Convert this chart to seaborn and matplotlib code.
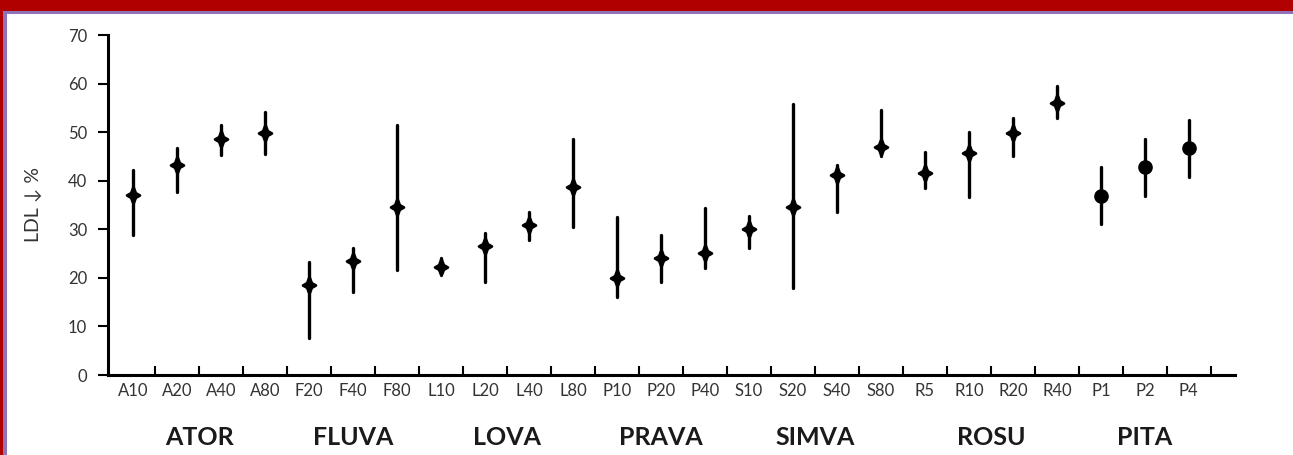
import numpy as np
import pandas as pd
import matplotlib
matplotlib.use("Agg")
import matplotlib.pyplot as plt
from matplotlib.path import Path
from matplotlib.patches import Rectangle
from matplotlib.transforms import blended_transform_factory
import seaborn as sns

# Dose labels, grouped by statin
categories = ["A10", "A20", "A40", "A80", "F20", "F40", "F80",
              "L10", "L20", "L40", "L80", "P10", "P20", "P40",
              "S10", "S20", "S40", "S80", "R5", "R10", "R20", "R40",
              "P1", "P2", "P4"]
groups = ["ATOR"] * 4 + ["FLUVA"] * 3 + ["LOVA"] * 4 + ["PRAVA"] * 3 + \
         ["SIMVA"] * 4 + ["ROSU"] * 4 + ["PITA"] * 3
group_names = ["ATOR", "FLUVA", "LOVA", "PRAVA", "SIMVA", "ROSU", "PITA"]

# LDL reduction (%): central estimate and range
ldl_mid = [37.1, 43.3, 48.5, 49.9, 18.6, 23.5, 34.6,
           22.3, 26.6, 30.9, 38.8, 20.0, 24.1, 25.2,
           30.1, 34.6, 41.2, 47.0, 41.6, 45.8, 49.9, 55.9,
           36.9, 42.9, 46.8]
ldl_high = [42.3, 46.8, 51.5, 54.2, 23.3, 26.2, 51.5,
            24.1, 29.3, 33.6, 48.5, 32.6, 28.9, 34.4,
            32.8, 55.7, 43.3, 54.6, 46.0, 50.1, 53.0, 59.4,
            42.9, 48.5, 52.4]
ldl_low = [28.9, 37.7, 45.2, 45.6, 7.6, 17.1, 21.6,
           21.0, 19.2, 27.8, 30.5, 16.1, 19.2, 22.1,
           26.2, 17.9, 33.6, 45.0, 38.6, 36.7, 45.0, 53.0,
           31.1, 36.9, 40.8]

y_ticks = [0, 10, 20, 30, 40, 50, 60, 70]

# Long-form table: the low / mid / high values per dose; the median gives
# the point and the full percentile interval gives the whisker.
rows = []
for cat, grp, lo, mid, hi in zip(categories, groups, ldl_low, ldl_mid, ldl_high):
    for v in (lo, mid, hi):
        rows.append({"dose": cat, "statin": grp, "ldl": v})
df = pd.DataFrame(rows)

sns.set_theme(style="white")
plt.rcParams["font.family"] = ["Lato", "DejaVu Sans"]

W, H = 1293, 455
fig = plt.figure(figsize=(W / 100, H / 100), dpi=100)
fig.patch.set_facecolor("white")

# Slide frame: red band at top and left, thin purple rule inside it
fig.patches.append(Rectangle((0, 1 - 11 / H), 1, 11 / H, transform=fig.transFigure,
                             facecolor="#b00000", edgecolor="none", zorder=0))
fig.patches.append(Rectangle((0, 0), 3 / W, 1, transform=fig.transFigure,
                             facecolor="#b00000", edgecolor="none", zorder=0))
fig.patches.append(Rectangle((3 / W, 1 - 14 / H), 1 - 3 / W, 3 / H, transform=fig.transFigure,
                             facecolor="#8f72b8", edgecolor="none", zorder=0))
fig.patches.append(Rectangle((3 / W, 0), 3.5 / W, 1 - 11 / H, transform=fig.transFigure,
                             facecolor="#8f72b8", edgecolor="none", zorder=0))

ax = fig.add_axes([108 / W, 80 / H, (1235 - 108) / W, 340 / H])
ax.set_facecolor("none")

# Four-pointed star marker
r_in = 0.36
star = Path([(0, 1.3), (r_in, r_in), (1, 0), (r_in, -r_in), (0, -1.3),
             (-r_in, -r_in), (-1, 0), (-r_in, r_in), (0, 1.3)],
            [Path.MOVETO] + [Path.LINETO] * 7 + [Path.CLOSEPOLY])

common = dict(x="dose", y="ldl", order=categories, estimator="median",
              errorbar=("pi", 100), color="black", linestyle="none",
              err_kws={"linewidth": 2.4}, ax=ax)
sns.pointplot(data=df[df["statin"] != "PITA"], marker=star, markersize=12, **common)
sns.pointplot(data=df[df["statin"] == "PITA"], marker="o", markersize=8.5, **common)

ax.set_xlim(-0.57, 25.05)
ax.set_ylim(0, 70)
ax.set_yticks(y_ticks)
ax.set_yticklabels([str(t) for t in y_ticks])

ax.set_xticks(range(len(categories)))
ax.set_xticklabels(categories)
ax.set_xticks(np.arange(0.5, len(categories)), minor=True)
ax.tick_params(axis="x", which="major", length=0, pad=6, labelsize=12,
               labelcolor="#333333")
ax.tick_params(axis="x", which="minor", direction="in", length=6.5, width=1.5,
               color="black", bottom=True)
ax.tick_params(axis="y", which="major", direction="out", length=7, width=1.5,
               color="black", pad=8, labelsize=12, labelcolor="#333333", left=True)

for side in ("top", "right"):
    ax.spines[side].set_visible(False)
for side in ("left", "bottom"):
    ax.spines[side].set_color("black")
    ax.spines[side].set_linewidth(2.2)

ax.set_xlabel("")
ax.set_ylabel("LDL ↓ %", fontsize=14, color="#333333", labelpad=19)

# Statin group names under the dose labels
trans = blended_transform_factory(ax.transData, ax.transAxes)
cat_pos = {c: i for i, c in enumerate(categories)}
for name in group_names:
    pos = [cat_pos[c] for c, g in zip(categories, groups) if g == name]
    ax.text(np.mean(pos), -0.183, name, transform=trans, ha="center", va="center",
            fontsize=18, fontweight="bold", color="#1a1a1a")

fig.savefig("out.png", dpi=100, facecolor=fig.get_facecolor())
